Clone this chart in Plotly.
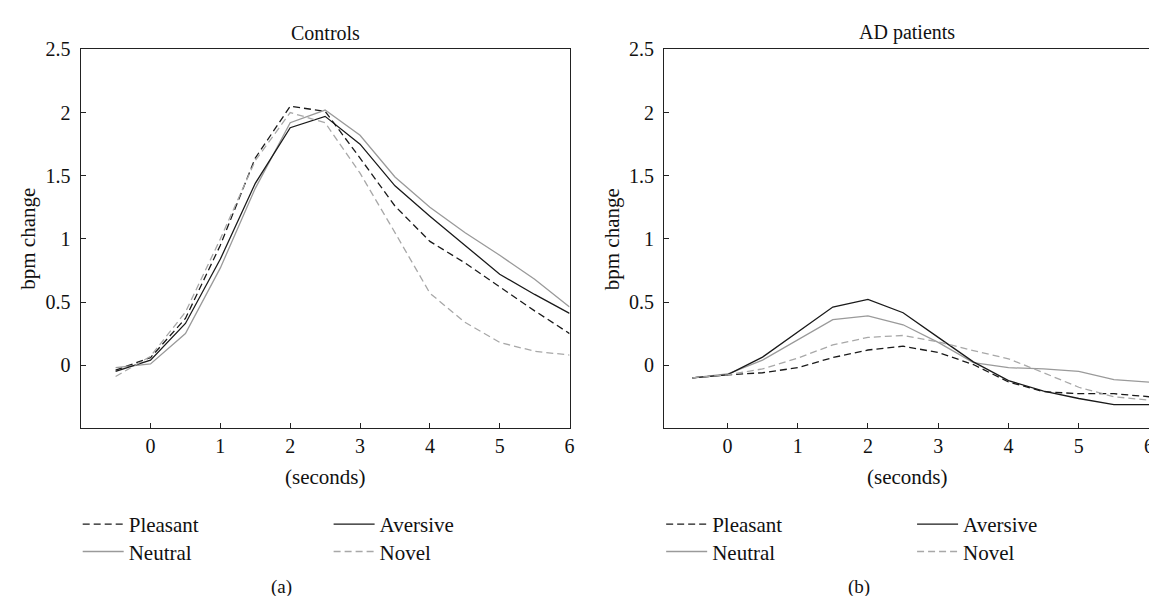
import plotly.graph_objects as go

# ---------------- data ----------------
seconds = [-0.5, 0, 0.5, 1, 1.5, 2, 2.5, 3, 3.5, 4, 4.5, 5, 5.5, 6]

ctrl_pleasant = [-0.04, 0.06, 0.37, 0.95, 1.64, 2.05, 2.01, 1.64, 1.26, 0.98, 0.81, 0.62, 0.43, 0.25]
ctrl_aversive = [-0.05, 0.04, 0.33, 0.84, 1.44, 1.88, 1.97, 1.75, 1.42, 1.18, 0.95, 0.72, 0.56, 0.41]
ctrl_neutral = [-0.02, 0.01, 0.25, 0.77, 1.40, 1.92, 2.02, 1.82, 1.49, 1.25, 1.05, 0.87, 0.68, 0.46]
ctrl_novel = [-0.09, 0.07, 0.42, 1.00, 1.62, 2.00, 1.92, 1.52, 1.05, 0.57, 0.34, 0.18, 0.11, 0.08]

ad_pleasant = [-0.10, -0.077, -0.06, -0.02, 0.06, 0.12, 0.15, 0.10, 0.005, -0.133, -0.21, -0.226, -0.226, -0.25]
ad_aversive = [-0.10, -0.077, 0.064, 0.26, 0.46, 0.52, 0.415, 0.22, 0.026, -0.123, -0.205, -0.264, -0.313, -0.313]
ad_neutral = [-0.10, -0.07, 0.04, 0.20, 0.36, 0.39, 0.32, 0.18, 0.02, -0.02, -0.03, -0.05, -0.115, -0.135]
ad_novel = [-0.10, -0.077, -0.03, 0.056, 0.16, 0.22, 0.235, 0.185, 0.115, 0.05, -0.06, -0.175, -0.25, -0.277]

x_ticks = [0, 1, 2, 3, 4, 5, 6]
y_ticks = [0, 0.5, 1, 1.5, 2, 2.5]
panel_titles = ["Controls", "AD patients"]
panel_labels = ["(a)", "(b)"]

# ---------------- style ----------------
FONT = "Liberation Serif"
FS = 21
TFS = 20
BLACK = "#1a1a1a"
GRAY = "#9a9a9a"
LGRAY = "#a8a8a8"
DASH = "7px,4px"

W, H = 1157, 596
def px_x(p):
    return p / W
def px_y(p):
    return 1 - p / H

dom_a = [px_x(73), px_x(564)]
dom_b = [px_x(659), px_x(1146)]
dom_y = [px_y(417), px_y(31)]

series_styles = {
    "Pleasant": dict(color=BLACK, width=1.3, dash=DASH),
    "Aversive": dict(color=BLACK, width=1.3),
    "Neutral": dict(color=GRAY, width=1.3),
    "Novel": dict(color=LGRAY, width=1.3, dash=DASH),
}

# legend slot (column start px, row center px) for each series, relative to a panel
legend_slots = {
    "Pleasant": (2, 514),
    "Neutral": (2, 542),
    "Aversive": (254, 514),
    "Novel": (254, 542),
}

fig = go.Figure()

panels = [
    ("x", "y", 73, {"Pleasant": ctrl_pleasant, "Neutral": ctrl_neutral,
                    "Aversive": ctrl_aversive, "Novel": ctrl_novel}),
    ("x2", "y2", 659, {"Pleasant": ad_pleasant, "Neutral": ad_neutral,
                       "Aversive": ad_aversive, "Novel": ad_novel}),
]

leg_common = dict(
    orientation="v", bgcolor="rgba(0,0,0,0)", borderwidth=0,
    font=dict(family=FONT, size=FS, color="#111111"),
    xanchor="left", yanchor="top", tracegroupgap=0, itemwidth=41,
)

leg_idx = 0
legend_layout = {}
for xa, ya, left_px, data in panels:
    for name in ["Pleasant", "Neutral", "Aversive", "Novel"]:
        leg_idx += 1
        key = "legend" if leg_idx == 1 else f"legend{leg_idx}"
        col, row_c = legend_slots[name]
        sample_start = left_px + col
        legend_layout[key] = dict(x=px_x(sample_start - 5), y=px_y(row_c - 20), **leg_common)
        fig.add_trace(go.Scatter(
            x=seconds, y=data[name], mode="lines", name=name,
            line=series_styles[name], xaxis=xa, yaxis=ya,
            legend=key, showlegend=True,
        ))

axis_common = dict(
    showline=True, linecolor="#222222", linewidth=1.2, mirror=True,
    ticks="inside", ticklen=5, tickcolor="#222222", tickwidth=1,
    showgrid=False, zeroline=False, ticklabeloverflow="allow",
    tickfont=dict(family=FONT, size=TFS, color="#111111"),
)

fig.update_layout(
    width=W, height=H,
    margin=dict(l=0, r=0, t=0, b=0),
    paper_bgcolor="white", plot_bgcolor="white",
    font=dict(family=FONT, size=FS, color="#111111"),
    xaxis=dict(domain=dom_a, range=[-1, 6], tickvals=x_ticks, anchor="y",
               ticklabelstandoff=0, **axis_common),
    yaxis=dict(domain=dom_y, range=[-0.5, 2.5], tickvals=y_ticks, anchor="x",
               ticklabelstandoff=5, **axis_common),
    xaxis2=dict(domain=dom_b, range=[-0.9, 6], tickvals=x_ticks, anchor="y2",
                ticklabelstandoff=0, **axis_common),
    yaxis2=dict(domain=dom_y, range=[-0.5, 2.5], tickvals=y_ticks, anchor="x2",
                ticklabelstandoff=5, **axis_common),
    showlegend=True,
    **legend_layout,
)

annos = []
for dom, title, lab, lab_px in [(dom_a, panel_titles[0], panel_labels[0], 275),
                                (dom_b, panel_titles[1], panel_labels[1], 855)]:
    cx = (dom[0] + dom[1]) / 2
    annos.append(dict(x=cx, y=px_y(14), text=title, showarrow=False, xref="paper", yref="paper",
                      xanchor="center", yanchor="middle", font=dict(family=FONT, size=TFS)))
    annos.append(dict(x=cx, y=px_y(467), text="(seconds)", showarrow=False, xref="paper", yref="paper",
                      xanchor="center", yanchor="middle", font=dict(family=FONT, size=FS)))
    annos.append(dict(x=px_x(lab_px), y=px_y(579), text=lab, showarrow=False, xref="paper", yref="paper",
                      xanchor="center", yanchor="middle", font=dict(family=FONT, size=FS - 2)))
for xc in (px_x(20), px_x(606)):
    annos.append(dict(x=xc, y=(dom_y[0] + dom_y[1]) / 2, text="bpm change", showarrow=False,
                      xref="paper", yref="paper", textangle=-90, xanchor="center", yanchor="middle",
                      font=dict(family=FONT, size=FS)))
fig.update_layout(annotations=annos)

fig.write_html("out.html")
